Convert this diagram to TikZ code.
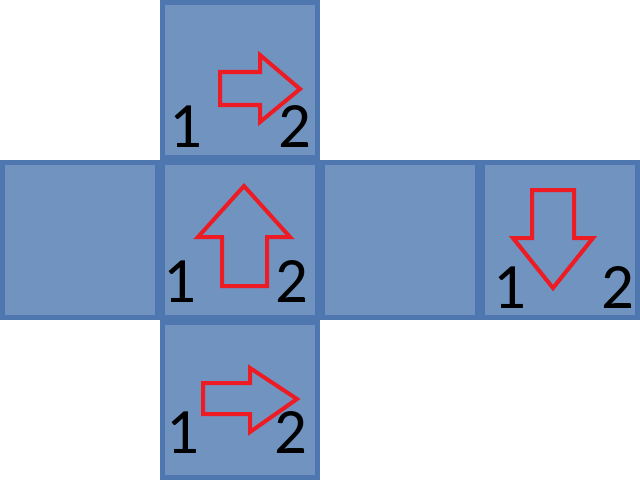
\documentclass[tikz,border=0pt]{standalone}
\usepackage{fontspec}
\setmainfont{Carlito}
\definecolor{celda}{RGB}{112,147,192}
\definecolor{borde}{RGB}{79,119,175}
\definecolor{flecha}{RGB}{237,28,36}
\begin{document}
\begin{tikzpicture}[x=0.025cm, y=-0.025cm,
      cara/.style = {shape=rectangle, draw=borde, fill=celda,
        line width=0.125cm, minimum size=3.875cm
      },
      num/.style = {anchor=base, inner sep=0pt,
        font=\fontsize{46}{46}\selectfont
      },
      flechita/.style = {draw=flecha, line width=0.1cm, line join=miter} % contorno rojo
    ]
        \useasboundingbox (0,0) rectangle (640,480);

        %caras del cubo
        \node[cara] (arriba) at (240,80) {};
        \node[cara] (izq) at (80,240) {};
        \node[cara] (centro) at (240,240) {};
        \node[cara] (der) at (400,240) {};
        \node[cara] (fondo) at (560,240) {};
        \node[cara] (abajo) at (240,400) {};

        %flechas
        \draw[flechita] (220,72) -- (260,72) -- (260,55) -- (300,89) -- (260,122) -- (260,105) -- (220,105) -- cycle;
        \draw[flechita] (222,286) -- (222,237) -- (198,237) -- (244,186) -- (290,237) -- (267,237) -- (267,286) -- cycle;
        \draw[flechita] (532,190) -- (574,190) -- (574,238) -- (593,238) -- (553,288) -- (513,238) -- (532,238) -- cycle;
        \draw[flechita] (203,383) -- (250,383) -- (250,368) -- (297,399) -- (250,432) -- (250,414) -- (203,414) -- cycle;

        %numeros
        \node[num] (uno-arriba) at (186,147) {1};
        \node[num] (dos-arriba) at (295,147) {2};
        \node[num] (uno-centro) at (180,302) {1};
        \node[num] (dos-centro) at (292,302) {2};
        \node[num] (uno-fondo) at (510,308) {1};
        \node[num] (dos-fondo) at (618,308) {2};
        \node[num] (uno-abajo) at (183,453) {1};
        \node[num] (dos-abajo) at (291,453) {2};
    \end{tikzpicture}
\end{document}
